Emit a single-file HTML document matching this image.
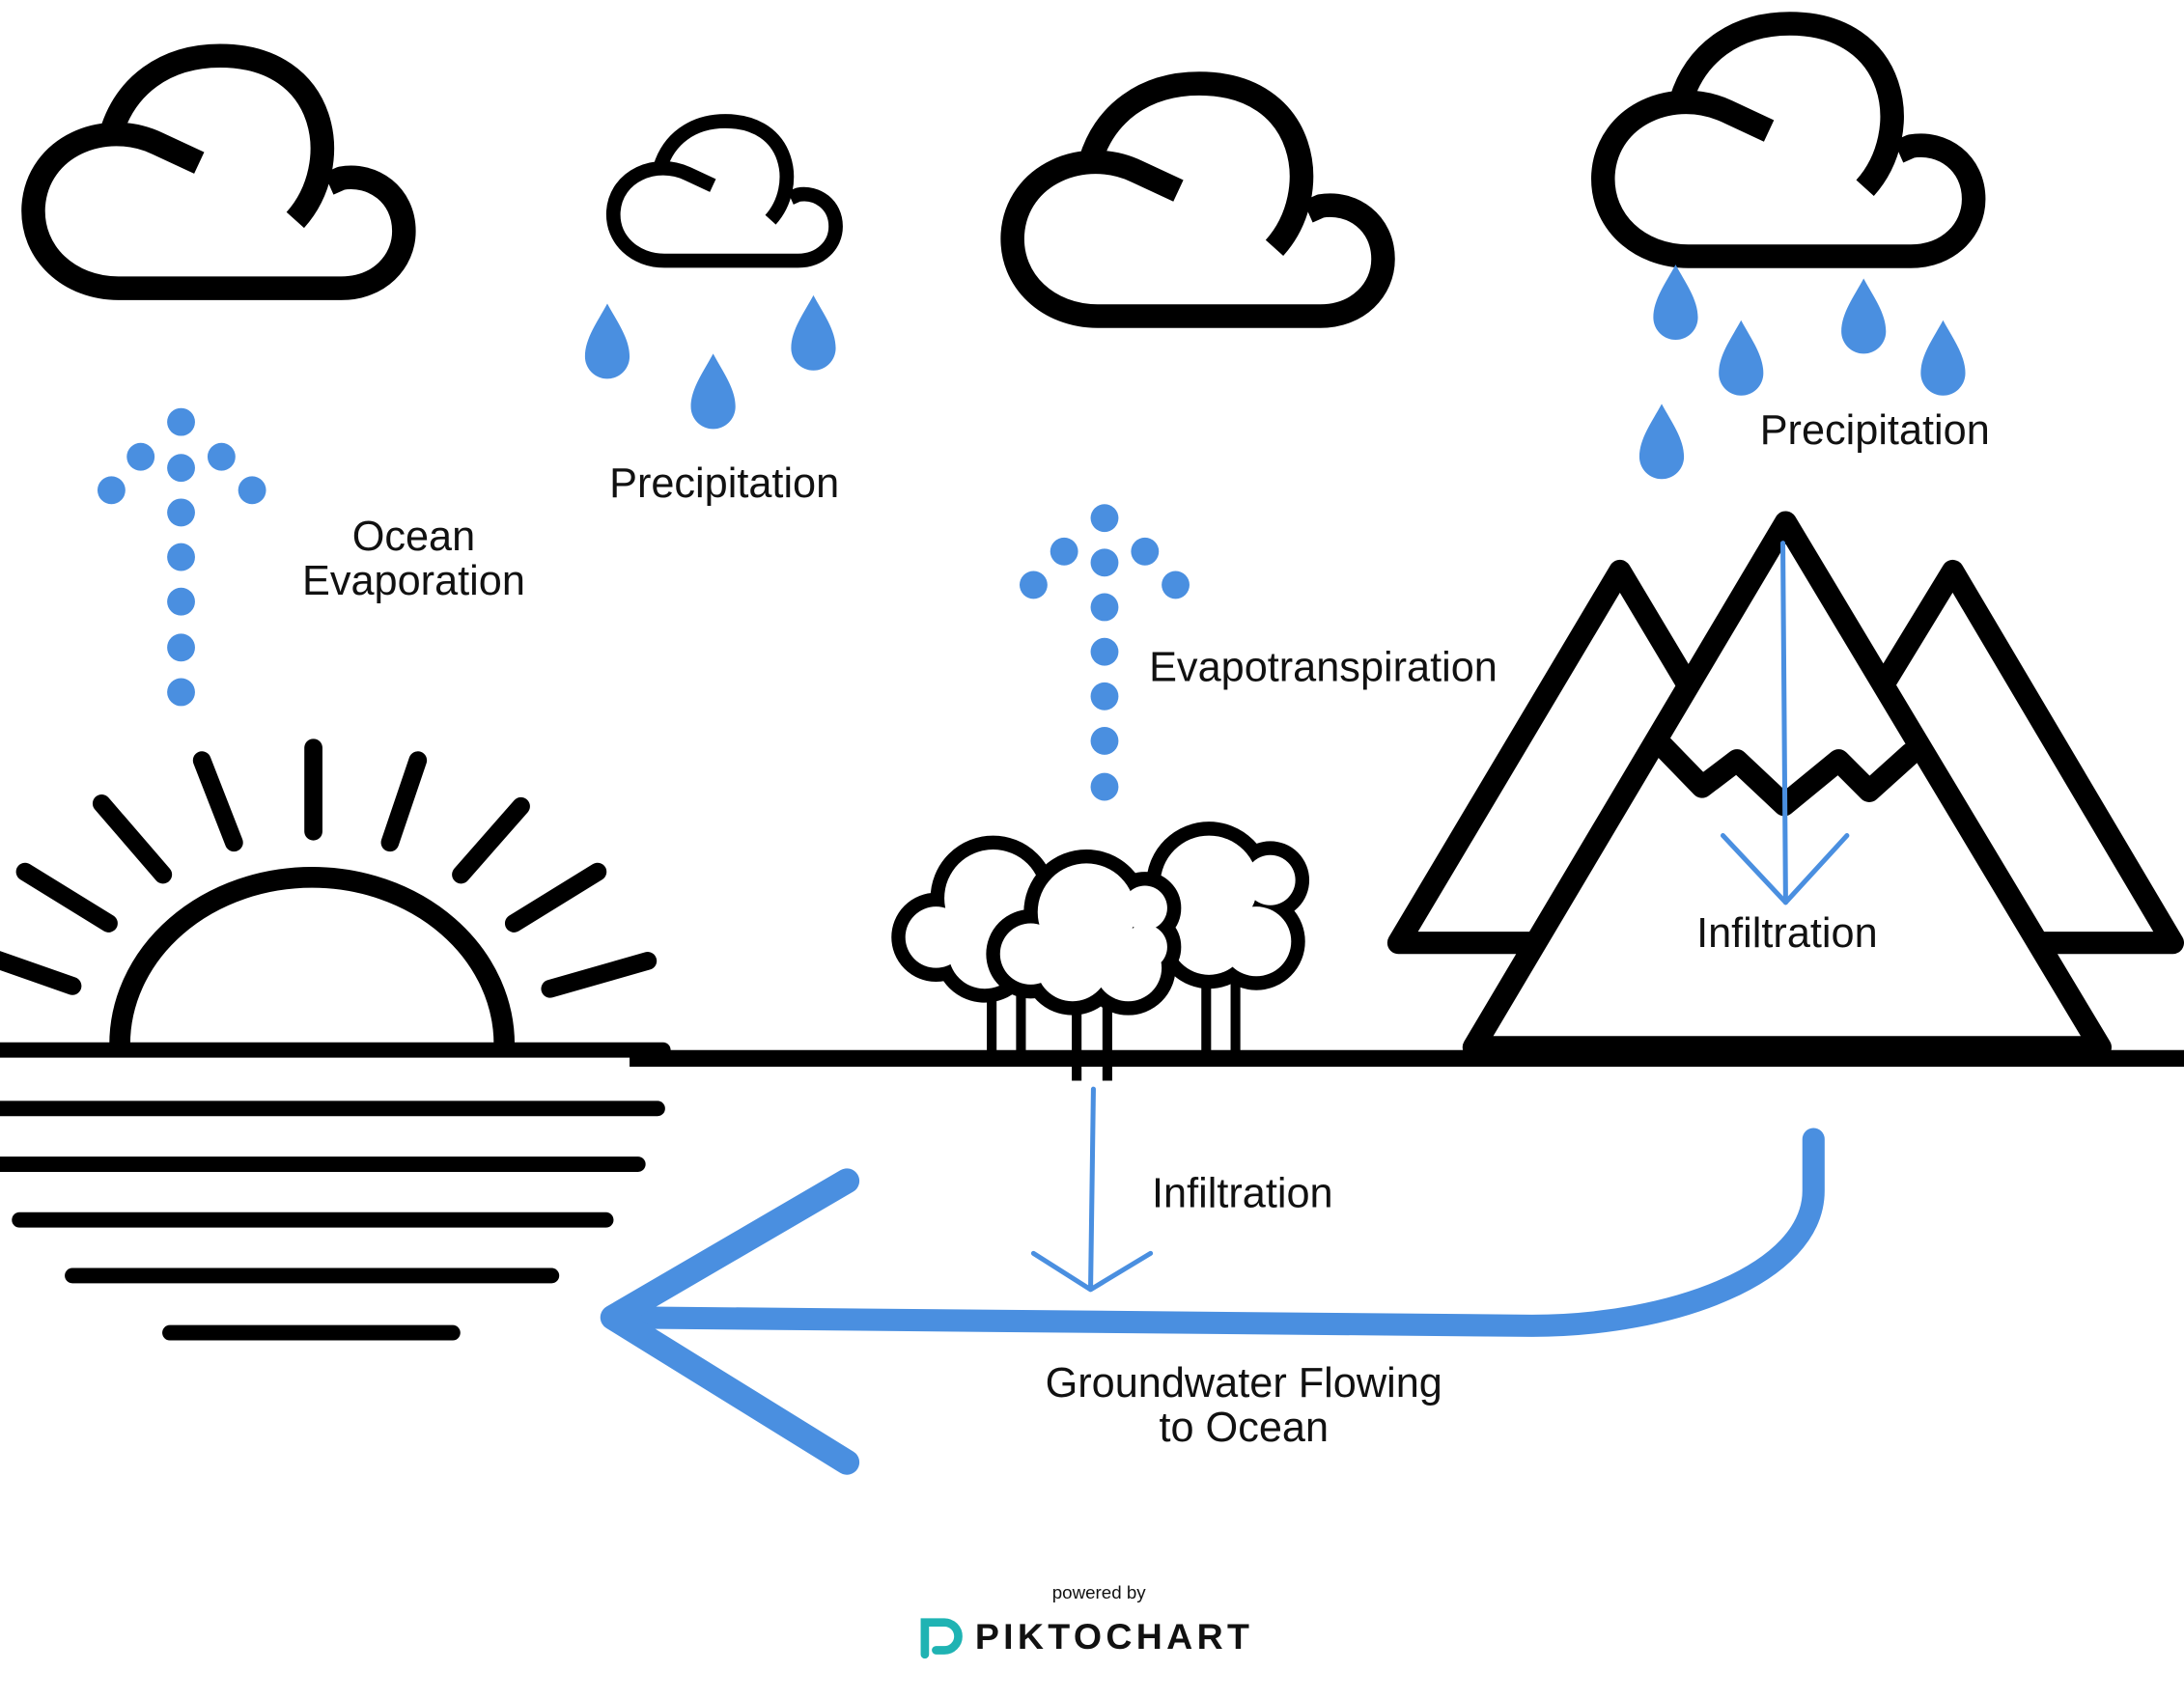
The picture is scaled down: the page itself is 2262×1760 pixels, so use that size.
<!DOCTYPE html>
<html><head><meta charset="utf-8"><style>
html,body{margin:0;padding:0;background:#fff;}
svg{display:block;}
text{font-family:"Liberation Sans",sans-serif;fill:#111;}
</style></head><body>
<svg width="2262" height="1760" viewBox="0 0 1568 1220" xmlns="http://www.w3.org/2000/svg">
<defs>
<g id="cloud" fill="none" stroke="#000" stroke-width="17" stroke-linejoin="round">
<path d="M143,117 L113,103 C75,85 27,105 24,148 C22,182 50,207 85,207 L245,207 C272,207 290,188 290,166 C290,140 268,124 245,128 L236,132"/>
<path d="M212,158 C248,118 236,40 158,40 C118,40 90,62 80,95"/>
</g>
<path id="drop" d="M0,-38 C7,-25 16,-13 16,0 A16,16 0 0 1 -16,0 C-16,-13 -7,-25 0,-38Z" fill="#4a8fe0"/>
</defs>
<rect width="1568" height="1220" fill="#fff"/>
<use href="#cloud"/>
<use href="#cloud" transform="translate(703,20)"/>
<use href="#cloud" transform="translate(1127,-23)"/>
<use href="#cloud" transform="translate(426,63) scale(0.6)"/>
<g>
<use href="#drop" x="436" y="256"/><use href="#drop" x="512" y="292"/><use href="#drop" x="584" y="250"/>
<use href="#drop" x="1203" y="228"/><use href="#drop" x="1250" y="268"/><use href="#drop" x="1338" y="238"/><use href="#drop" x="1395" y="268"/><use href="#drop" x="1193" y="328"/>
</g>
<g fill="#4a8fe0">
<circle cx="130" cy="303" r="10"/><circle cx="130" cy="336" r="10"/><circle cx="130" cy="368" r="10"/><circle cx="130" cy="400" r="10"/><circle cx="130" cy="432" r="10"/><circle cx="130" cy="465" r="10"/><circle cx="130" cy="497" r="10"/>
<circle cx="101" cy="328" r="10"/><circle cx="159" cy="328" r="10"/><circle cx="80" cy="352" r="10"/><circle cx="181" cy="352" r="10"/>
<circle cx="793" cy="372" r="10"/><circle cx="793" cy="404" r="10"/><circle cx="793" cy="436" r="10"/><circle cx="793" cy="468" r="10"/><circle cx="793" cy="500" r="10"/><circle cx="793" cy="532" r="10"/><circle cx="793" cy="565" r="10"/>
<circle cx="764" cy="396" r="10"/><circle cx="822" cy="396" r="10"/><circle cx="742" cy="420" r="10"/><circle cx="844" cy="420" r="10"/>
</g>
<path d="M86,750 A138,120 0 0 1 362,750" fill="none" stroke="#000" stroke-width="15"/>
<g stroke="#000" stroke-width="13" stroke-linecap="round">
<line x1="225" y1="537" x2="225" y2="597"/><line x1="145" y1="546" x2="168" y2="605"/><line x1="300" y1="546" x2="280" y2="605"/>
<line x1="73" y1="577" x2="117" y2="628"/><line x1="374" y1="579" x2="331" y2="628"/>
<line x1="18" y1="626" x2="78" y2="663"/><line x1="429" y1="626" x2="369" y2="663"/>
<line x1="-5" y1="688" x2="52" y2="708"/><line x1="465" y1="690" x2="395" y2="710"/>
</g>
<g stroke="#000" stroke-width="11" stroke-linecap="round">
<line x1="-10" y1="754" x2="476" y2="754"/>
<line x1="-10" y1="796" x2="472" y2="796"/><line x1="-10" y1="836" x2="458" y2="836"/>
<line x1="14" y1="876" x2="435" y2="876"/><line x1="52" y1="916" x2="396" y2="916"/><line x1="122" y1="957" x2="325" y2="957"/>
</g>
<line x1="452" y1="760" x2="1568" y2="760" stroke="#000" stroke-width="12"/>
<g stroke="#000" stroke-width="7">
<line x1="712" y1="710" x2="712" y2="765"/><line x1="733" y1="710" x2="733" y2="765"/>
<line x1="866" y1="700" x2="866" y2="755"/><line x1="887" y1="700" x2="887" y2="755"/>
<line x1="773" y1="720" x2="773" y2="776"/><line x1="795" y1="720" x2="795" y2="776"/>
</g>
<g>
<g stroke="#000" stroke-width="20" fill="#000">
<circle cx="868" cy="635" r="35"/><circle cx="912" cy="632" r="18"/><circle cx="902" cy="676" r="25"/><circle cx="868" cy="672" r="28"/>
</g>
<g fill="#fff">
<circle cx="868" cy="635" r="35"/><circle cx="912" cy="632" r="18"/><circle cx="902" cy="676" r="25"/><circle cx="868" cy="672" r="28"/>
</g>
<g stroke="#000" stroke-width="20" fill="#000">
<circle cx="713" cy="645" r="35"/><circle cx="672" cy="673" r="22"/><circle cx="707" cy="684" r="26"/><circle cx="745" cy="660" r="25"/>
</g>
<g fill="#fff">
<circle cx="713" cy="645" r="35"/><circle cx="672" cy="673" r="22"/><circle cx="707" cy="684" r="26"/><circle cx="745" cy="660" r="25"/>
</g>
<g stroke="#000" stroke-width="20" fill="#000">
<circle cx="780" cy="655" r="35"/><circle cx="822" cy="652" r="16"/><circle cx="740" cy="685" r="22"/><circle cx="770" cy="693" r="26"/><circle cx="810" cy="695" r="24"/><circle cx="822" cy="680" r="16"/>
</g>
<g fill="#fff">
<circle cx="780" cy="655" r="35"/><circle cx="822" cy="652" r="16"/><circle cx="740" cy="685" r="22"/><circle cx="770" cy="693" r="26"/><circle cx="810" cy="695" r="24"/><circle cx="822" cy="680" r="16"/>
</g>
</g>
<g fill="none" stroke="#000" stroke-width="16" stroke-linejoin="round" stroke-linecap="round">
<polyline points="1105,677 1004,677 1163,410 1212,492"/>
<polyline points="1352,492 1402,410 1560,677 1465,677"/>
<polygon points="1058,752 1282,375 1508,752" fill="#fff"/>
<polyline points="1190,532 1222,565 1247,546 1281,578 1320,546 1342,568 1372,541"/>
</g>
<g stroke="#4a8fe0" fill="none" stroke-linecap="round" stroke-linejoin="round">
<line x1="1280" y1="390" x2="1282" y2="648" stroke-width="3.5"/>
<polyline points="1237,600 1282,648 1326,600" stroke-width="3.5"/>
<line x1="785" y1="782" x2="783" y2="925" stroke-width="3.5"/>
<polyline points="742,900 783,926 826,900" stroke-width="3.5"/>
<path d="M1302,818 L1302,855 C1302,915 1200,952 1100,952 L442,946" stroke-width="16"/>
<polyline points="608,848 440,946 608,1050" stroke-width="18"/>
</g>
<g font-size="30" text-anchor="middle">
<text x="297" y="395">Ocean</text>
<text x="297" y="427">Evaporation</text>
<text x="520" y="357">Precipitation</text>
<text x="950" y="489">Evapotranspiration</text>
<text x="1346" y="319">Precipitation</text>
<text x="1283" y="680">Infiltration</text>
<text x="892" y="867">Infiltration</text>
<text x="893" y="1003">Groundwater Flowing</text>
<text x="893" y="1035">to Ocean</text>
</g>
<text x="789" y="1148" font-size="13" text-anchor="middle" fill="#2b2d42">powered by</text>
<g fill="none" stroke="#1fb3b3" stroke-width="6" stroke-linecap="round">
<path d="M664,1188 L664,1165 L678,1165 A10,10 0 0 1 678,1185 L672,1185"/>
</g>
<text x="700" y="1184" font-size="26" font-weight="bold" letter-spacing="3" fill="#2b2d42">PIKTOCHART</text>
</svg>
</body></html>
